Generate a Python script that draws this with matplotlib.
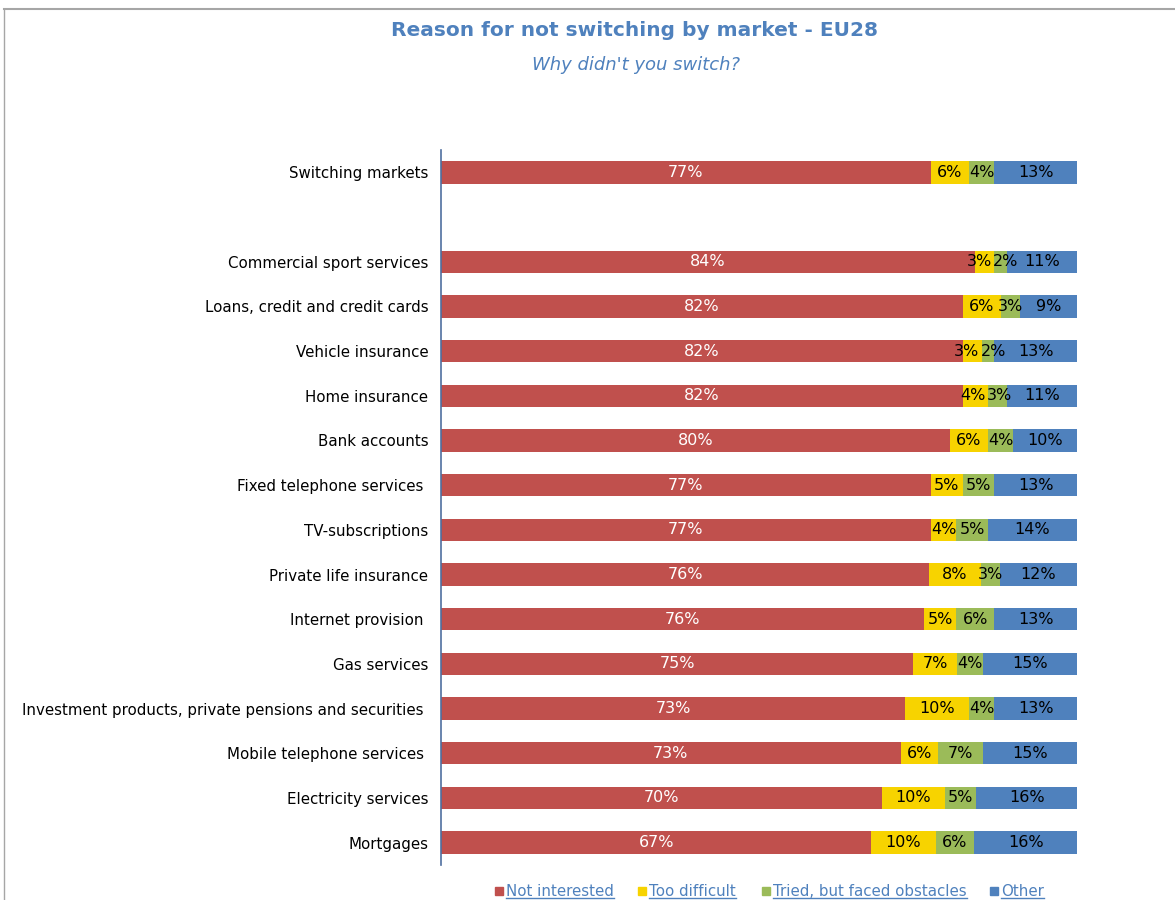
import matplotlib.pyplot as plt
from matplotlib.lines import Line2D
import numpy as np

markets = ["Switching markets", "", "Commercial sport services",
           "Loans, credit and credit cards", "Vehicle insurance",
           "Home insurance", "Bank accounts", "Fixed telephone services ",
           "TV-subscriptions", "Private life insurance",
           "Internet provision ", "Gas services",
           "Investment products, private pensions and securities ",
           "Mobile telephone services ", "Electricity services", "Mortgages"]
not_interested = [77, 0, 84, 82, 82, 82, 80, 77, 77, 76, 76, 75, 73, 73, 70, 67]
too_difficult = [6, 0, 3, 6, 3, 4, 6, 5, 4, 8, 5, 7, 10, 6, 10, 10]
tried_obstacles = [4, 0, 2, 3, 2, 3, 4, 5, 5, 3, 6, 4, 4, 7, 5, 6]
other = [13, 0, 11, 9, 13, 11, 10, 13, 14, 12, 13, 15, 13, 15, 16, 16]

series = ["Not interested", "Too difficult", "Tried, but faced obstacles", "Other"]
colors = ["#C0504D", "#F7D300", "#9BBB59", "#4F81BD"]
text_colors = ["white", "black", "black", "black"]

data = np.array([not_interested, too_difficult, tried_obstacles, other], dtype=float)
totals = data.sum(axis=0)
totals[totals == 0] = 1
shares = data / totals * 100

fig = plt.figure(figsize=(11.75, 9), dpi=100)
ax = fig.add_axes([0.3753, 0.0389, 0.5413, 0.7944])

y = np.arange(len(markets))
left = np.zeros(len(markets))
row_labels = [[] for _ in markets]
for i in range(4):
    ax.barh(y, shares[i], left=left, height=0.5, color=colors[i], label=series[i])
    for j in range(len(markets)):
        if data[i, j] > 0:
            t = ax.text(left[j] + shares[i, j] / 2, y[j], f"{int(data[i, j])}%",
                        ha="center", va="center", fontsize=11.5, color=text_colors[i])
            row_labels[j].append(t)
    left += shares[i]

ax.set_xlim(0, 100)
ax.set_ylim(len(markets) - 0.5, -0.5)
ax.set_yticks(y)
ax.set_yticklabels(markets, fontsize=10.8)
ax.tick_params(axis="y", length=0, pad=9)
ax.set_xticks([])
for s in ["top", "right", "bottom"]:
    ax.spines[s].set_visible(False)
ax.spines["left"].set_color("#4F6F9F")
ax.spines["left"].set_linewidth(1.2)

title_color = "#4F81BD"
fig.text(0.54, 0.966, "Reason for not switching by market - EU28", ha="center",
         va="center", fontsize=14.5, fontweight="bold", color=title_color)
fig.text(0.541, 0.928, "Why didn't you switch?", ha="center", va="center",
         fontsize=13, style="italic", color=title_color)

fig.canvas.draw()
renderer = fig.canvas.get_renderer()

# nudge crowded value labels apart (the original does the same on thin segments)
inv = ax.transData.inverted()
for labels in row_labels:
    widths = []
    for t in labels:
        bb = t.get_window_extent(renderer)
        x0 = inv.transform((bb.x0, 0))[0]
        x1 = inv.transform((bb.x1, 0))[0]
        widths.append(x1 - x0)
    xs = [t.get_position()[0] for t in labels]
    for _ in range(50):
        for k in range(len(xs) - 1):
            gap = (xs[k + 1] - widths[k + 1] / 2) - (xs[k] + widths[k] / 2) - 0.2
            if gap < 0:
                xs[k] -= -gap / 2
                xs[k + 1] += -gap / 2
    for t, xv in zip(labels, xs):
        t.set_x(xv)

# legend at the bottom with underlined labels
leg_x = [0.4213, 0.543, 0.6485, 0.8425]
for i in range(4):
    fig.patches.append(plt.Rectangle((leg_x[i], 0.0055), 0.0068, 0.0089,
                                     transform=fig.transFigure, color=colors[i]))
    t = fig.text(leg_x[i] + 0.0095, 0.0095, series[i], ha="left", va="center",
                 fontsize=10.8, color=title_color)
    bb = t.get_window_extent(renderer).transformed(fig.transFigure.inverted())
    fig.lines.append(Line2D([bb.x0, bb.x1], [bb.y0 + 0.001, bb.y0 + 0.001],
                            transform=fig.transFigure, color=title_color, lw=1))

# outer frame (top and left edges)
fig.lines.append(Line2D([0.0035, 1], [0.99, 0.99], transform=fig.transFigure,
                        color="#A6A6A6", lw=1.5))
fig.lines.append(Line2D([0.0035, 0.0035], [0, 0.99], transform=fig.transFigure,
                        color="#A6A6A6", lw=1))

fig.savefig("out.png", dpi=100)
